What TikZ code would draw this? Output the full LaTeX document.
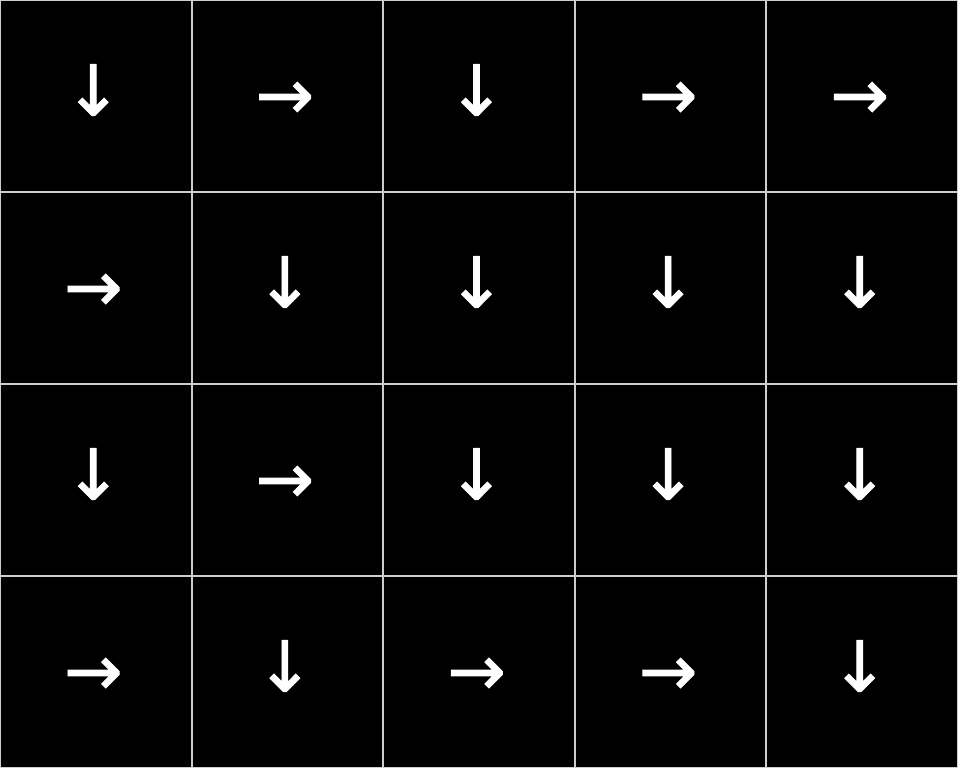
\documentclass[tikz,border=0pt]{standalone}
\usepackage{fontspec}
\newfontfamily\arrowfont[FakeBold=1.2]{DejaVu Sans}
\definecolor{gridgray}{RGB}{205,205,205}
\begin{document}
\begin{tikzpicture}[x=1pt,y=-1pt,
  cellarrow/.style={text=white, font=\arrowfont\fontsize{70}{70}\selectfont, inner sep=0pt, xshift=-2.5pt},
  rarrow/.style={cellarrow, yshift=-4.5pt},
  darrow/.style={cellarrow, yshift=6pt},
  gridline/.style={draw=gridgray, line width=2pt}]
\fill[black] (0,0) rectangle (958,768);
\useasboundingbox (0,0) rectangle (958,768);
\foreach \i in {1,...,4} \draw[gridline] ({\i*191.6},0) -- ({\i*191.6},768);
\foreach \j in {1,2,3} \draw[gridline] (0,{\j*192}) -- (958,{\j*192});
\draw[gridline] (0,0) rectangle (958,768);
\foreach \r/\c/\s/\g in {
  1/1/d/↓, 1/2/r/→, 1/3/d/↓, 1/4/r/→, 1/5/r/→,
  2/1/r/→, 2/2/d/↓, 2/3/d/↓, 2/4/d/↓, 2/5/d/↓,
  3/1/d/↓, 3/2/r/→, 3/3/d/↓, 3/4/d/↓, 3/5/d/↓,
  4/1/r/→, 4/2/d/↓, 4/3/r/→, 4/4/r/→, 4/5/d/↓}
  \node[\s arrow] (a\r\c) at ({(\c-0.5)*191.6},{(\r-0.5)*192}) {\g};
\end{tikzpicture}
\end{document}
